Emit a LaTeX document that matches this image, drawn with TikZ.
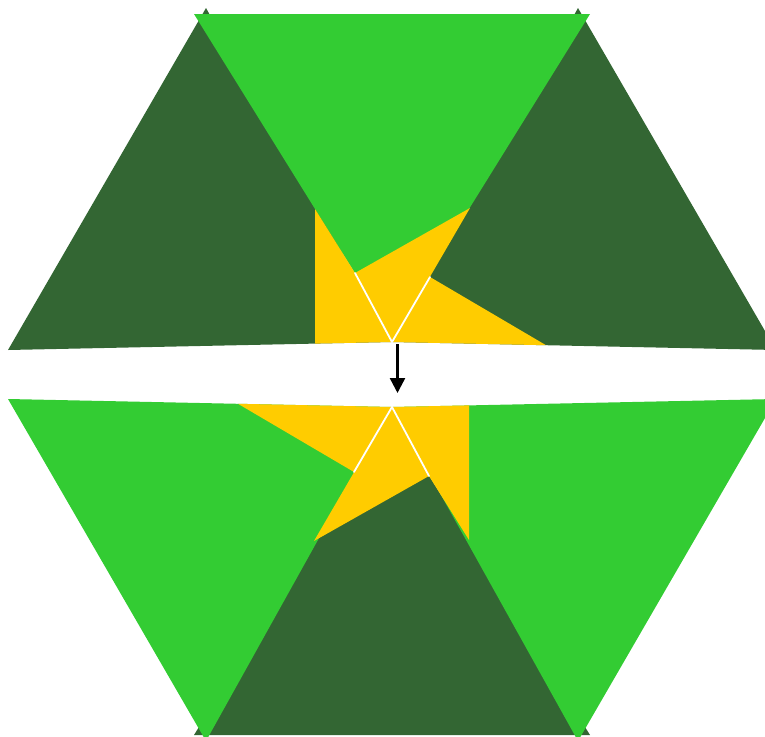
\documentclass[tikz,border=0pt]{standalone}
\usepackage{xcolor}
\definecolor{leafdark}{RGB}{51,102,51}
\definecolor{leafbright}{RGB}{51,204,51}
\definecolor{foldyellow}{RGB}{255,204,0}
\usepackage{tikz}
\usetikzlibrary{arrows.meta, positioning}

\tikzset{
  darkpiece/.style={fill=leafdark, draw=none},
  brightpiece/.style={fill=leafbright, draw=none},
  yellowpiece/.style={fill=foldyellow, draw=none},
  creaseline/.style={draw=white, line width=1.8pt, line cap=round},
  foldarrow/.style={-{Triangle[length=15pt, width=15pt]}, line width=2.4pt, black}
}

\begin{document}
\begin{tikzpicture}[x=1pt, y=-1pt]
  % Canvas
  \useasboundingbox (0,0) rectangle (765,736);
  \clip (0,0) rectangle (765,736);

  % Centres of the two halves
  \coordinate (ctop) at (392,342);
  \coordinate (cbot) at (392,407);

  % --- Top half: folded hexagon ---
  \fill[darkpiece] (206,8) -- (8,350) -- (ctop) -- cycle;
  \fill[darkpiece] (578,8) -- (776,350) -- (ctop) -- cycle;
  \fill[brightpiece] (194,14) -- (590,14) -- (392,333) -- cycle;
  % Yellow flaps
  \fill[yellowpiece] (315,209) -- (315,343.6) -- (ctop) -- (355,273) -- cycle;
  \fill[yellowpiece] (355,273) -- (470,208) -- (ctop) -- cycle;
  \fill[yellowpiece] (430,277) -- (546,345.2) -- (ctop) -- cycle;
  % Creases
  \draw[creaseline] (355,273) -- (ctop);
  \draw[creaseline] (430,277) -- (ctop);

  % --- Bottom half: same fold turned round, colours swapped ---
  \fill[darkpiece] (590,735) -- (194,735) -- (392,416) -- cycle;
  \fill[brightpiece] (578,741) -- (776,399) -- (cbot) -- cycle;
  \fill[brightpiece] (206,741) -- (8,399) -- (cbot) -- cycle;
  % Yellow flaps
  \fill[yellowpiece] (469,540) -- (469,405.4) -- (cbot) -- (429,476) -- cycle;
  \fill[yellowpiece] (429,476) -- (314,541) -- (cbot) -- cycle;
  \fill[yellowpiece] (354,472) -- (238,403.8) -- (cbot) -- cycle;
  % Creases
  \draw[creaseline] (429,476) -- (cbot);
  \draw[creaseline] (354,472) -- (cbot);

  % Arrow between the halves
  \coordinate (arrowtop) at (397.5,344);
  \coordinate (arrowbot) at (397.5,393);
  \draw[foldarrow] (arrowtop) -- (arrowbot);
\end{tikzpicture}
\end{document}
